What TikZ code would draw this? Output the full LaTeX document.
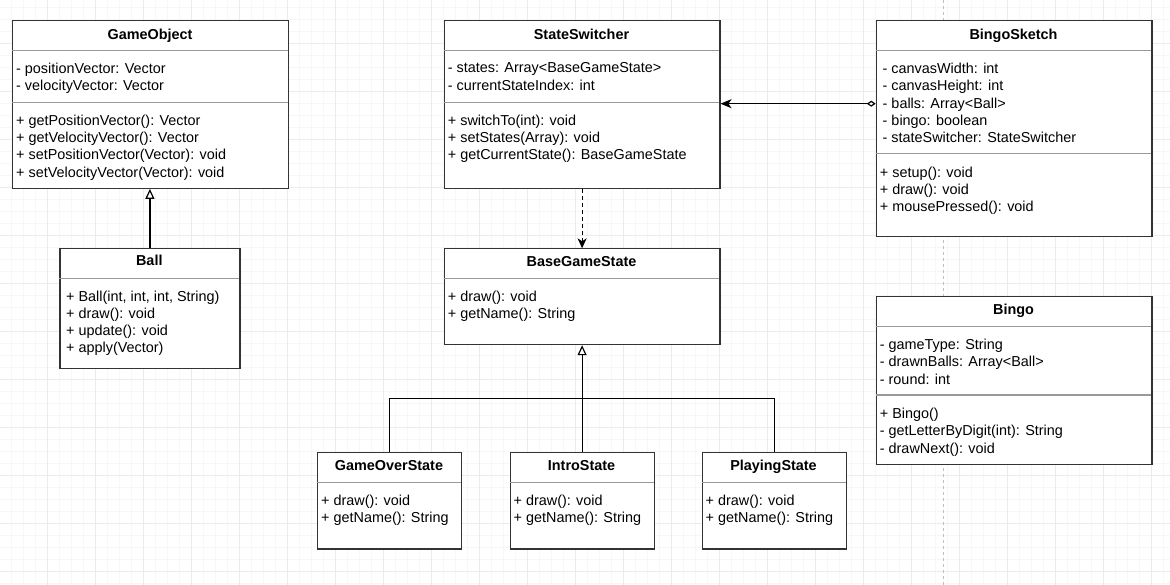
\documentclass[tikz,border=0pt]{standalone}
\usepackage{fontspec}
\setmainfont{Liberation Sans}
\usetikzlibrary{arrows.meta}

\begin{document}
\begin{tikzpicture}[x=1pt, y=-1pt,
	cls/.style={draw=black!80, fill=white, line width=1.2pt, anchor=north west, inner sep=0pt},
	sep/.style={draw=black!40, line width=1.2pt},
	title/.style={anchor=base, inner sep=0pt, font=\fontsize{14.4}{17.3}\selectfont\bfseries},
	member/.style={anchor=north west, inner sep=0pt, align=left, font=\fontsize{14.4}{17.3}\selectfont},
	minorgrid/.style={draw=black!3, line width=0.8pt},
	majorgrid/.style={draw=black!8, line width=0.8pt},
	pageline/.style={draw=black!25, line width=0.8pt, dash pattern=on 3pt off 3pt},
	inherit/.style={-{Triangle[open, length=10pt, width=9pt]}, line width=1.2pt},
	dep/.style={-{Stealth[length=10pt, width=9pt, inset=3pt]}, line width=1.2pt, dash pattern=on 4pt off 3pt},
	agg/.style={{Diamond[open, length=9pt, width=6pt]}-{Stealth[length=11pt, width=9pt, inset=3pt]}, line width=1.2pt}]

	\useasboundingbox[fill=white] (0,0) rectangle (1170,585);
	\begin{scope}
		\clip (0,0) rectangle (1170,585);
		\draw[minorgrid, step=12pt, xshift=-0.7pt, yshift=-7.3pt] (-24,612) grid (1200,-24);
		\draw[majorgrid, step=48pt, xshift=-0.7pt, yshift=-43.3pt] (-96,672) grid (1248,-96);
		\draw[pageline] (943.3,0) -- (943.3,585);
	\end{scope}

	\node[cls, minimum width=276pt, minimum height=168pt] (gameobj) at (12,19.7) {};
	\draw[sep] (12,50.3) -- (288,50.3);
	\draw[sep] (12,102.3) -- (288,102.3);
	\node[title] (gameobj-t) at (150,39.3) {GameObject};
	\node[member] (gameobj-a) at (16,62.7) {- positionVector: Vector\\- velocityVector: Vector};
	\node[member] (gameobj-m) at (16,114.7) {+ getPositionVector(): Vector\\+ getVelocityVector(): Vector\\+ setPositionVector(Vector): void\\+ setVelocityVector(Vector): void};

	\node[cls, minimum width=180pt, minimum height=119.7pt] (ball) at (59.3,248) {};
	\draw[sep] (59.3,278.7) -- (239.3,278.7);
	\node[title] (ball-t) at (149.3,266) {Ball};
	\node[member] (ball-m) at (66,290.4) {+ Ball(int, int, int, String)\\+ draw(): void\\+ update(): void\\+ apply(Vector)};

	\node[cls, minimum width=275.6pt, minimum height=168pt] (sswitch) at (443.7,19.7) {};
	\draw[sep] (443.7,50.3) -- (719.3,50.3);
	\draw[sep] (443.7,102.3) -- (719.3,102.3);
	\node[title] (sswitch-t) at (581.5,39.3) {StateSwitcher};
	\node[member] (sswitch-a) at (447.7,62.7) {- states: Array<BaseGameState>\\- currentStateIndex: int};
	\node[member] (sswitch-m) at (447.7,114.7) {+ switchTo(int): void\\+ setStates(Array): void\\+ getCurrentState(): BaseGameState};

	\node[cls, minimum width=275.6pt, minimum height=216pt] (bsketch) at (875.7,19.7) {};
	\draw[sep] (875.7,50.3) -- (1151.3,50.3);
	\draw[sep] (875.7,153.7) -- (1151.3,153.7);
	\node[title] (bsketch-t) at (1013.5,39.3) {BingoSketch};
	\node[member] (bsketch-a) at (882.5,63) {- canvasWidth: int\\- canvasHeight: int\\- balls: Array<Ball>\\- bingo: boolean\\- stateSwitcher: StateSwitcher};
	\node[member] (bsketch-m) at (879.7,166.4) {+ setup(): void\\+ draw(): void\\+ mousePressed(): void};

	\node[cls, minimum width=275.6pt, minimum height=95.7pt] (basestate) at (443.7,248.3) {};
	\draw[sep] (443.7,278.7) -- (719.3,278.7);
	\node[title] (basestate-t) at (581.5,266.7) {BaseGameState};
	\node[member] (basestate-m) at (447.7,290.4) {+ draw(): void\\+ getName(): String};

	\node[cls, minimum width=275.6pt, minimum height=168pt] (bingo) at (875.7,296) {};
	\draw[sep] (875.7,326.7) -- (1151.3,326.7);
	\draw[sep] (875.7,395) -- (1151.3,395);
	\node[title] (bingo-t) at (1013.5,315) {Bingo};
	\node[member] (bingo-a) at (879.7,339) {- gameType: String\\- drawnBalls: Array<Ball>\\- round: int};
	\node[member] (bingo-m) at (879.7,408) {+ Bingo()\\- getLetterByDigit(int): String\\- drawNext(): void};

	\node[cls, minimum width=144pt, minimum height=96.3pt] (gover) at (317,452) {};
	\draw[sep] (317,482.7) -- (461,482.7);
	\node[title] (gover-t) at (389,470) {GameOverState};
	\node[member] (gover-m) at (321,494.7) {+ draw(): void\\+ getName(): String};

	\node[cls, minimum width=144pt, minimum height=96.3pt] (intro) at (509.5,452) {};
	\draw[sep] (509.5,482.7) -- (653.5,482.7);
	\node[title] (intro-t) at (581.5,470) {IntroState};
	\node[member] (intro-m) at (513.5,494.7) {+ draw(): void\\+ getName(): String};

	\node[cls, minimum width=144pt, minimum height=96.3pt] (play) at (701.5,452) {};
	\draw[sep] (701.5,482.7) -- (845.5,482.7);
	\node[title] (play-t) at (773.5,470) {PlayingState};
	\node[member] (play-m) at (705.5,494.7) {+ draw(): void\\+ getName(): String};

	\coordinate (aggy) at (0,103.7);
	\coordinate (bus) at (581.5,398.3);

	\draw[inherit] (ball.north) -- (ball.north |- gameobj.south);
	\draw[dep] (sswitch.south) -- (basestate.north);
	\draw[agg] (bsketch.west |- aggy) -- (sswitch.east |- aggy);
	\draw[line width=1.2pt] (gover.north) |- (bus) -| (play.north);
	\draw[inherit] (intro.north) -- (basestate.south);
\end{tikzpicture}
\end{document}
